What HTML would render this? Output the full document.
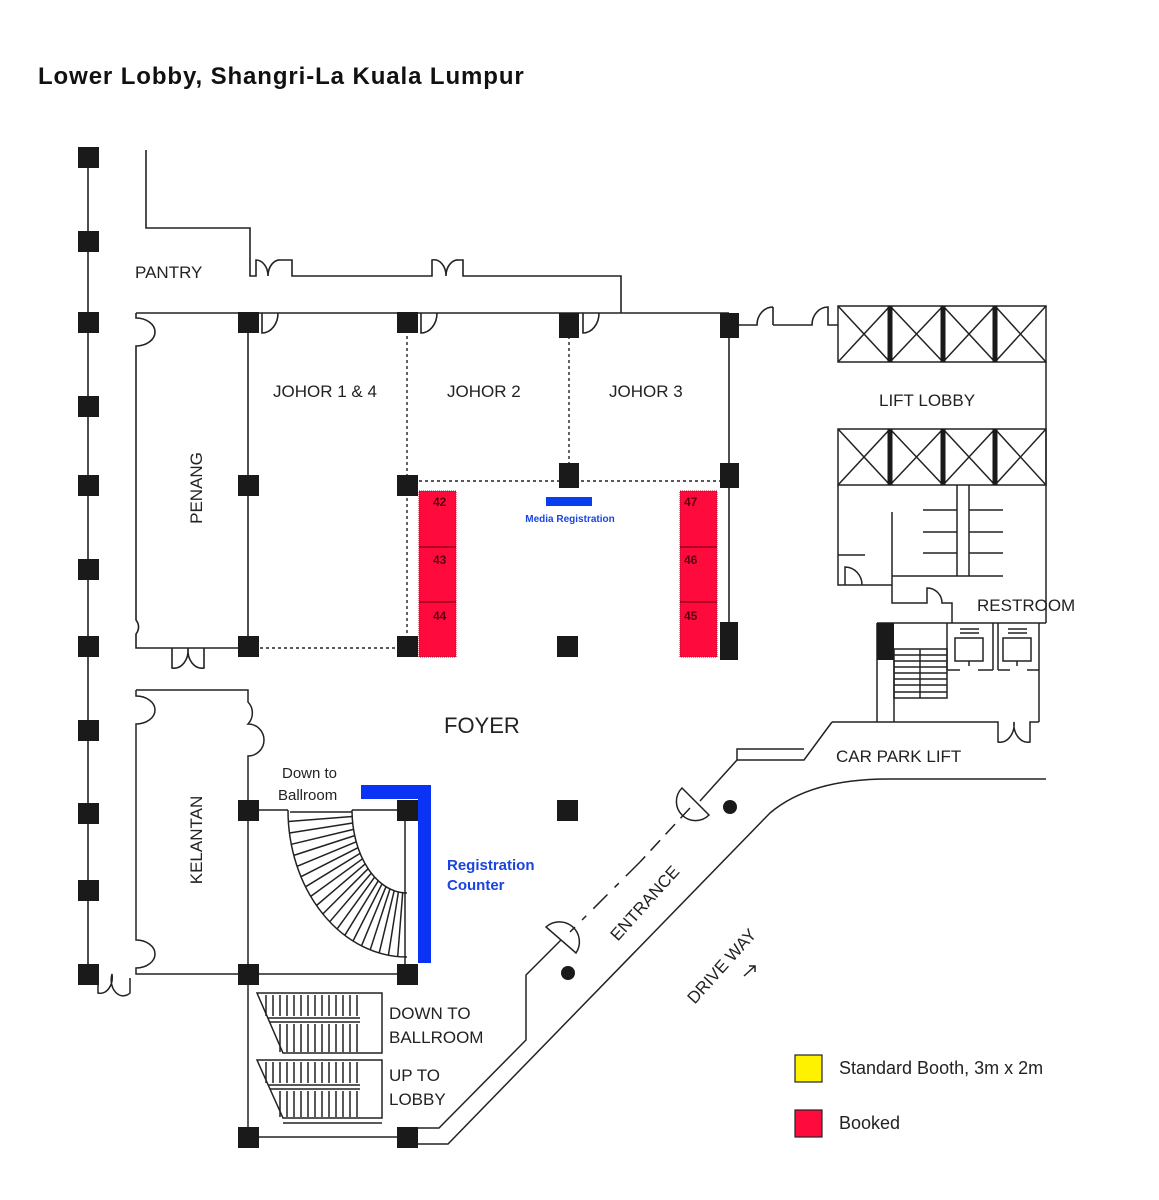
<!DOCTYPE html>
<html><head><meta charset="utf-8"><style>
html,body{margin:0;padding:0;background:#fff;}
svg{display:block;}
text{font-family:"Liberation Sans",sans-serif;}
</style></head><body>
<svg width="1159" height="1200" viewBox="0 0 1159 1200" xmlns="http://www.w3.org/2000/svg">
<rect width="1159" height="1200" fill="#fff"/>
<text x="38" y="84" font-size="24" font-weight="bold" fill="#111" letter-spacing="0.9">Lower Lobby, Shangri-La Kuala Lumpur</text>

<g fill="none" stroke="#222" stroke-width="1.6">
<line x1="88" y1="150" x2="88" y2="985"/>
<path d="M146 150 V228 H250 V276 H256 V260 A12 16 0 0 1 268 276 A12 16 0 0 1 281 260 H292 V276 H432 V260 A12 16 0 0 1 446 276 A12 16 0 0 1 459 260 H463 V276 H621 V313"/>
<line x1="136" y1="313" x2="729" y2="313"/>
<path d="M262 313 V333 A16 20 0 0 0 278 313"/>
<path d="M421 313 V333 A16 20 0 0 0 437 313"/>
<path d="M583 313 V333 A16 20 0 0 0 599 313"/>
<path d="M136 313 V318 A19 14 0 0 1 136 346 V620 A19 14 0 0 1 136 634 V648 H248"/>
<path d="M172 648 V668 A14 18 0 0 0 188 648 A14 18 0 0 0 204 668 V648"/>
<line x1="248" y1="313" x2="248" y2="648"/>
<line x1="729" y1="313" x2="729" y2="640"/>
<path d="M729 325 H757 A16 18 0 0 1 773 307 M773 325 V307 M773 325 H812 V325 A16 18 0 0 1 828 307 V325 H838"/>
</g>
<g fill="none" stroke="#222" stroke-width="1.4" stroke-dasharray="3,3">
<line x1="407" y1="330" x2="407" y2="640"/>
<line x1="248" y1="648" x2="407" y2="648"/>
<line x1="407" y1="481" x2="729" y2="481"/>
<line x1="569" y1="330" x2="569" y2="470"/>
</g>

<g stroke="#b0002a" stroke-width="1" stroke-dasharray="1,1">
<rect x="419" y="491" width="37" height="166" fill="#ff0a3c"/>
<rect x="680" y="491" width="37" height="166" fill="#ff0a3c"/>
</g>
<g stroke="#6a0010" stroke-width="1">
<line x1="419" y1="547" x2="456" y2="547"/><line x1="419" y1="602" x2="456" y2="602"/>
<line x1="680" y1="547" x2="717" y2="547"/><line x1="680" y1="602" x2="717" y2="602"/>
</g>
<g font-size="12" font-weight="bold" fill="#5a0010">
<text x="433" y="506">42</text><text x="433" y="564">43</text><text x="433" y="620">44</text>
<text x="684" y="506">47</text><text x="684" y="564">46</text><text x="684" y="620">45</text>
</g>
<rect x="546" y="497" width="46" height="9" fill="#0a3cf0"/>
<text x="570" y="522" font-size="10" font-weight="bold" fill="#1a44e0" text-anchor="middle">Media Registration</text>

<g fill="none" stroke="#222" stroke-width="1.5">
<rect x="838" y="306" width="208" height="56"/>
<rect x="838" y="429" width="208" height="56"/>
<path d="M838 306 L890 362 M890 306 L838 362 M890 306 L943 362 M943 306 L890 362 M943 306 L995 362 M995 306 L943 362 M995 306 L1046 362 M1046 306 L995 362"/>
<path d="M838 429 L890 485 M890 429 L838 485 M890 429 L943 485 M943 429 L890 485 M943 429 L995 485 M995 429 L943 485 M995 429 L1046 485 M1046 429 L995 485"/>
<line x1="1046" y1="362" x2="1046" y2="623"/>
<path d="M838 485 V585 H892"/>
<path d="M838 555 H865"/>
<path d="M845 585 V567 A17 18 0 0 1 862 585"/>
<path d="M892 512 V603 H927 V588 A15 15 0 0 1 942 603 H952 V623"/>
<path d="M892 576 H1003"/>
<path d="M957 485 V576 M969 485 V576"/>
<path d="M923 510 H957 M923 532 H957 M923 553 H957 M969 510 H1003 M969 532 H1003 M969 553 H1003"/>
<line x1="877" y1="623" x2="1046" y2="623"/>
<path d="M877 623 V722 M894 660 V722"/>
<rect x="894" y="649" width="53" height="49"/>
<line x1="920" y1="649" x2="920" y2="698"/>
<path d="M894 655 H947 M894 661 H947 M894 667 H947 M894 673 H947 M894 679 H947 M894 685 H947 M894 692 H947"/>
<line x1="947" y1="623" x2="947" y2="670"/>
<rect x="955" y="638" width="28" height="23"/>
<rect x="1003" y="638" width="28" height="23"/>
<path d="M960 629 H979 M960 633 H979 M1008 629 H1027 M1008 633 H1027 M969 661 V666 M1017 661 V666"/>
<path d="M947 670 H960 M978 670 H993 M993 623 V670 M998 623 V670 M998 670 H1010 M1027 670 H1039"/>
<line x1="1039" y1="623" x2="1039" y2="722"/>
<path d="M832 722 H998 V742 A14 18 0 0 0 1014 722 A14 18 0 0 0 1030 742 V722 H1039"/>
<path d="M832 722 L804 760 H737 V749 H804"/>
<path d="M737 760 L700 801"/>
<path d="M682 788 A19 19 0 0 0 709 815 Z"/>
<path d="M690 808 L640 862" stroke-dasharray="14,8"/>
<path d="M640 862 L570 932" stroke-dasharray="20,10,6,10"/>
<path d="M546 927 A20 20 0 0 1 576 953 Z"/>
<path d="M561 940 L526 975 V1040 L439 1128 H417"/>
<path d="M417 1144 H448 L770 813 Q810 779 888 779 H1046"/>
<path d="M136 690 H248 V702 A16 16 0 0 1 248 724 A16 16 0 0 1 248 756 V1137"/>
<path d="M136 690 V696 A19 14 0 0 1 136 724 V940 A19 14 0 0 1 136 968 V974 H407"/>
<path d="M98 974 V993 A12 16 0 0 0 112 974 A12 16 0 0 0 130 993 V978"/>
<line x1="248" y1="1137" x2="407" y2="1137"/>
<path d="M248 810 H288 M352 810 H407"/>
<line x1="405" y1="810" x2="405" y2="974"/>
<path d="M288 810 A119 147 0 0 0 407 957"/>
<path d="M352 810 A55 83 0 0 0 407 893"/>
<path d="M290 812 H352"/>
<path d="M288.4 821.5 L352.2 816.5 M289.5 833 L352.7 823 M291.3 844.3 L353.5 829.4 M293.8 855.4 L354.7 835.6 M297.1 866.3 L356.2 841.8 M301 876.7 L358 847.7 M305.5 886.8 L360.1 853.4 M310.7 896.4 L362.5 858.8 M316.5 905.5 L365.2 863.9 M322.9 913.9 L368.1 868.7 M329.7 921.8 L371.3 873.1 M337.1 928.9 L374.7 877.1 M344.8 935.3 L378.3 880.8 M353 941 L382 884 M361.5 945.8 L386 886.7 M370.2 949.8 L390 888.9 M379.2 952.9 L394.2 890.7 M388.4 955.2 L398.4 892 M397.7 956.5 L402.7 892.7"/>
<path d="M257 993 H382 V1053 H283 Z"/>
<path d="M257 1060 H382 V1118 H283 Z"/>
<path d="M283 1123 H382"/>
<path d="M268 1018 H360 M270 1022 H360 M268 1085 H360 M270 1089 H360"/>
<path d="M266 995 V1016 M273 995 V1016 M280 995 V1016 M287 995 V1016 M294 995 V1016 M301 995 V1016 M308 995 V1016 M315 995 V1016 M322 995 V1016 M329 995 V1016 M336 995 V1016 M343 995 V1016 M350 995 V1016 M357 995 V1016"/>
<path d="M280 1024 V1052 M287 1024 V1052 M294 1024 V1052 M301 1024 V1052 M308 1024 V1052 M315 1024 V1052 M322 1024 V1052 M329 1024 V1052 M336 1024 V1052 M343 1024 V1052 M350 1024 V1052 M357 1024 V1052"/>
<path d="M266 1062 V1083 M273 1062 V1083 M280 1062 V1083 M287 1062 V1083 M294 1062 V1083 M301 1062 V1083 M308 1062 V1083 M315 1062 V1083 M322 1062 V1083 M329 1062 V1083 M336 1062 V1083 M343 1062 V1083 M350 1062 V1083 M357 1062 V1083"/>
<path d="M280 1091 V1117 M287 1091 V1117 M294 1091 V1117 M301 1091 V1117 M308 1091 V1117 M315 1091 V1117 M322 1091 V1117 M329 1091 V1117 M336 1091 V1117 M343 1091 V1117 M350 1091 V1117 M357 1091 V1117"/>
</g>
<g stroke="#1a1a1a" stroke-width="5">
<line x1="890" y1="306" x2="890" y2="362"/><line x1="943" y1="306" x2="943" y2="362"/><line x1="995" y1="306" x2="995" y2="362"/>
<line x1="890" y1="429" x2="890" y2="485"/><line x1="943" y1="429" x2="943" y2="485"/><line x1="995" y1="429" x2="995" y2="485"/>
</g>

<g fill="#1a1a1a">
<rect x="78" y="147" width="21" height="21"/><rect x="78" y="231" width="21" height="21"/><rect x="78" y="312" width="21" height="21"/><rect x="78" y="396" width="21" height="21"/><rect x="78" y="475" width="21" height="21"/><rect x="78" y="559" width="21" height="21"/><rect x="78" y="636" width="21" height="21"/><rect x="78" y="720" width="21" height="21"/><rect x="78" y="803" width="21" height="21"/><rect x="78" y="880" width="21" height="21"/><rect x="78" y="964" width="21" height="21"/>
<rect x="238" y="312" width="21" height="21"/><rect x="238" y="475" width="21" height="21"/><rect x="238" y="636" width="21" height="21"/>
<rect x="397" y="312" width="21" height="21"/><rect x="397" y="475" width="21" height="21"/><rect x="397" y="636" width="21" height="21"/>
<rect x="559" y="313" width="20" height="25"/><rect x="559" y="463" width="20" height="25"/><rect x="557" y="636" width="21" height="21"/>
<rect x="720" y="313" width="19" height="25"/><rect x="720" y="463" width="19" height="25"/><rect x="720" y="622" width="18" height="38"/>
<rect x="877" y="623" width="17" height="37"/>
<rect x="238" y="800" width="21" height="21"/><rect x="397" y="800" width="21" height="21"/><rect x="557" y="800" width="21" height="21"/>
<rect x="238" y="964" width="21" height="21"/><rect x="397" y="964" width="21" height="21"/>
<rect x="238" y="1127" width="21" height="21"/><rect x="397" y="1127" width="21" height="21"/>
<circle cx="730" cy="807" r="7"/><circle cx="568" cy="973" r="7"/>
</g>

<path d="M361 785 H431 V963 H418 V799 H361 Z" fill="#0a34f5"/>
<text x="447" y="870" font-size="15" font-weight="bold" fill="#1a44e0">Registration</text>
<text x="447" y="890" font-size="15" font-weight="bold" fill="#1a44e0">Counter</text>

<g font-size="17" fill="#222">
<text x="135" y="278">PANTRY</text>
<text x="273" y="397">JOHOR 1 &amp; 4</text>
<text x="447" y="397">JOHOR 2</text>
<text x="609" y="397">JOHOR 3</text>
<text x="879" y="406">LIFT LOBBY</text>
<text x="977" y="611">RESTROOM</text>
<text x="836" y="762">CAR PARK LIFT</text>
<text x="389" y="1019">DOWN TO</text>
<text x="389" y="1043">BALLROOM</text>
<text x="389" y="1081">UP TO</text>
<text x="389" y="1105">LOBBY</text>
<text transform="translate(202,488) rotate(-90)" text-anchor="middle">PENANG</text>
<text transform="translate(202,840) rotate(-90)" text-anchor="middle">KELANTAN</text>
<text transform="translate(649,907) rotate(-48)" text-anchor="middle">ENTRANCE</text>
<text transform="translate(726,970) rotate(-48)" text-anchor="middle">DRIVE WAY</text>
</g>
<text x="444" y="733" font-size="22" fill="#222">FOYER</text>
<text x="282" y="778" font-size="15" fill="#222">Down to</text>
<text x="278" y="800" font-size="15" fill="#222">Ballroom</text>
<path d="M744 976 L755 966 M749 966 H755 V972" stroke="#222" stroke-width="1.5" fill="none"/>

<rect x="795" y="1055" width="27" height="27" fill="#fff200" stroke="#222" stroke-width="1.2"/>
<rect x="795" y="1110" width="27" height="27" fill="#ff0a3c" stroke="#222" stroke-width="1.2"/>
<text x="839" y="1074" font-size="18" fill="#222">Standard Booth, 3m x 2m</text>
<text x="839" y="1129" font-size="18" fill="#222">Booked</text>
</svg>
</body></html>
